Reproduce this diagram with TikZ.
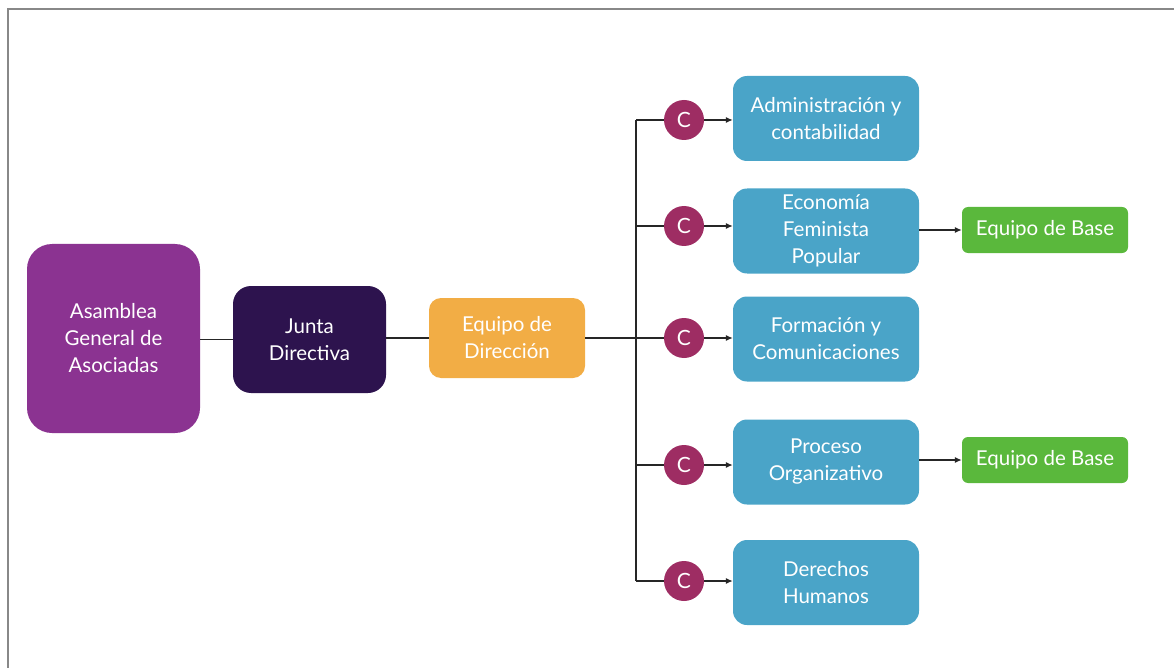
\documentclass[tikz,border=0pt]{standalone}
\usepackage{fontspec}
\setmainfont{Lato}
\usetikzlibrary{arrows.meta}

\definecolor{asambleaC}{RGB}{139,51,145}
\definecolor{juntaC}{RGB}{45,19,78}
\definecolor{direccionC}{RGB}{242,173,69}
\definecolor{areaC}{RGB}{74,164,200}
\definecolor{baseC}{RGB}{90,184,60}
\definecolor{comiteC}{RGB}{158,45,99}
\definecolor{frameC}{RGB}{136,136,136}

\begin{document}
\begin{tikzpicture}[x=1pt, y=-1pt,
    box/.style={rectangle, text=white, align=center, inner sep=0pt,
        font=\fontsize{20.5}{27}\selectfont},
    area/.style={box, fill=areaC, minimum width=186, minimum height=85, rounded corners=14},
    basebox/.style={box, fill=baseC, minimum width=166, minimum height=46, rounded corners=6},
    circ/.style={circle, fill=comiteC, text=white, minimum size=40, inner sep=0pt,
        font=\fontsize{21}{21}\selectfont},
    link/.style={line width=1.2pt, black!85},
    arr/.style={link, -{Latex[length=7pt,width=6pt]}}]

\useasboundingbox (0,0) rectangle (1174,668);

% Frame
\draw[frameC, line width=2pt] (8,668) -- (8,9) -- (1174,9);

% Governing bodies
\node[box, fill=asambleaC, minimum width=173, minimum height=189, rounded corners=25]
    (asamblea) at (113.5,338.5) {Asamblea\\General de\\Asociadas};
\node[box, fill=juntaC, minimum width=153, minimum height=107, rounded corners=18]
    (junta) at (309.5,339.5) {Junta\\Directiva};
\node[box, fill=direccionC, minimum width=156, minimum height=80, rounded corners=12]
    (direccion) at (507,338) {Equipo de\\Dirección};

\draw[link] (asamblea.east |- junta) -- (junta.west);
\draw[link] (junta.east |- direccion) -- (direccion.west);

% Bus
\coordinate (bus) at (636,338);

% Areas with their committees
\foreach \nm/\yy/\cy/\txt in {
    admin/118.5/120/{Administración y\\contabilidad},
    economia/231/226/{Economía\\Feminista\\Popular},
    formacion/339/338/{Formación y\\Comunicaciones},
    proceso/462/465/{Proceso\\Organizativo},
    derechos/582.5/581/{Derechos\\Humanos}} {
    \node[area] (\nm) at (826,\yy) {\txt};
    \node[circ] (c\nm) at (684,\cy) {C};
    \draw[link] (bus |- c\nm) -- (c\nm.west);
    \draw[arr] (c\nm.east) -- (c\nm.east -| \nm.west);
}

\draw[link] (bus |- cadmin) -- (bus |- cderechos);
\draw[link] (direccion.east) -- (bus);

% Base teams
\node[basebox] (baseA) at (1045,230) {Equipo de Base};
\node[basebox] (baseB) at (1045,460) {Equipo de Base};

\draw[arr] (economia.east |- baseA) -- (baseA.west);
\draw[arr] (proceso.east |- baseB) -- (baseB.west);

\end{tikzpicture}
\end{document}
